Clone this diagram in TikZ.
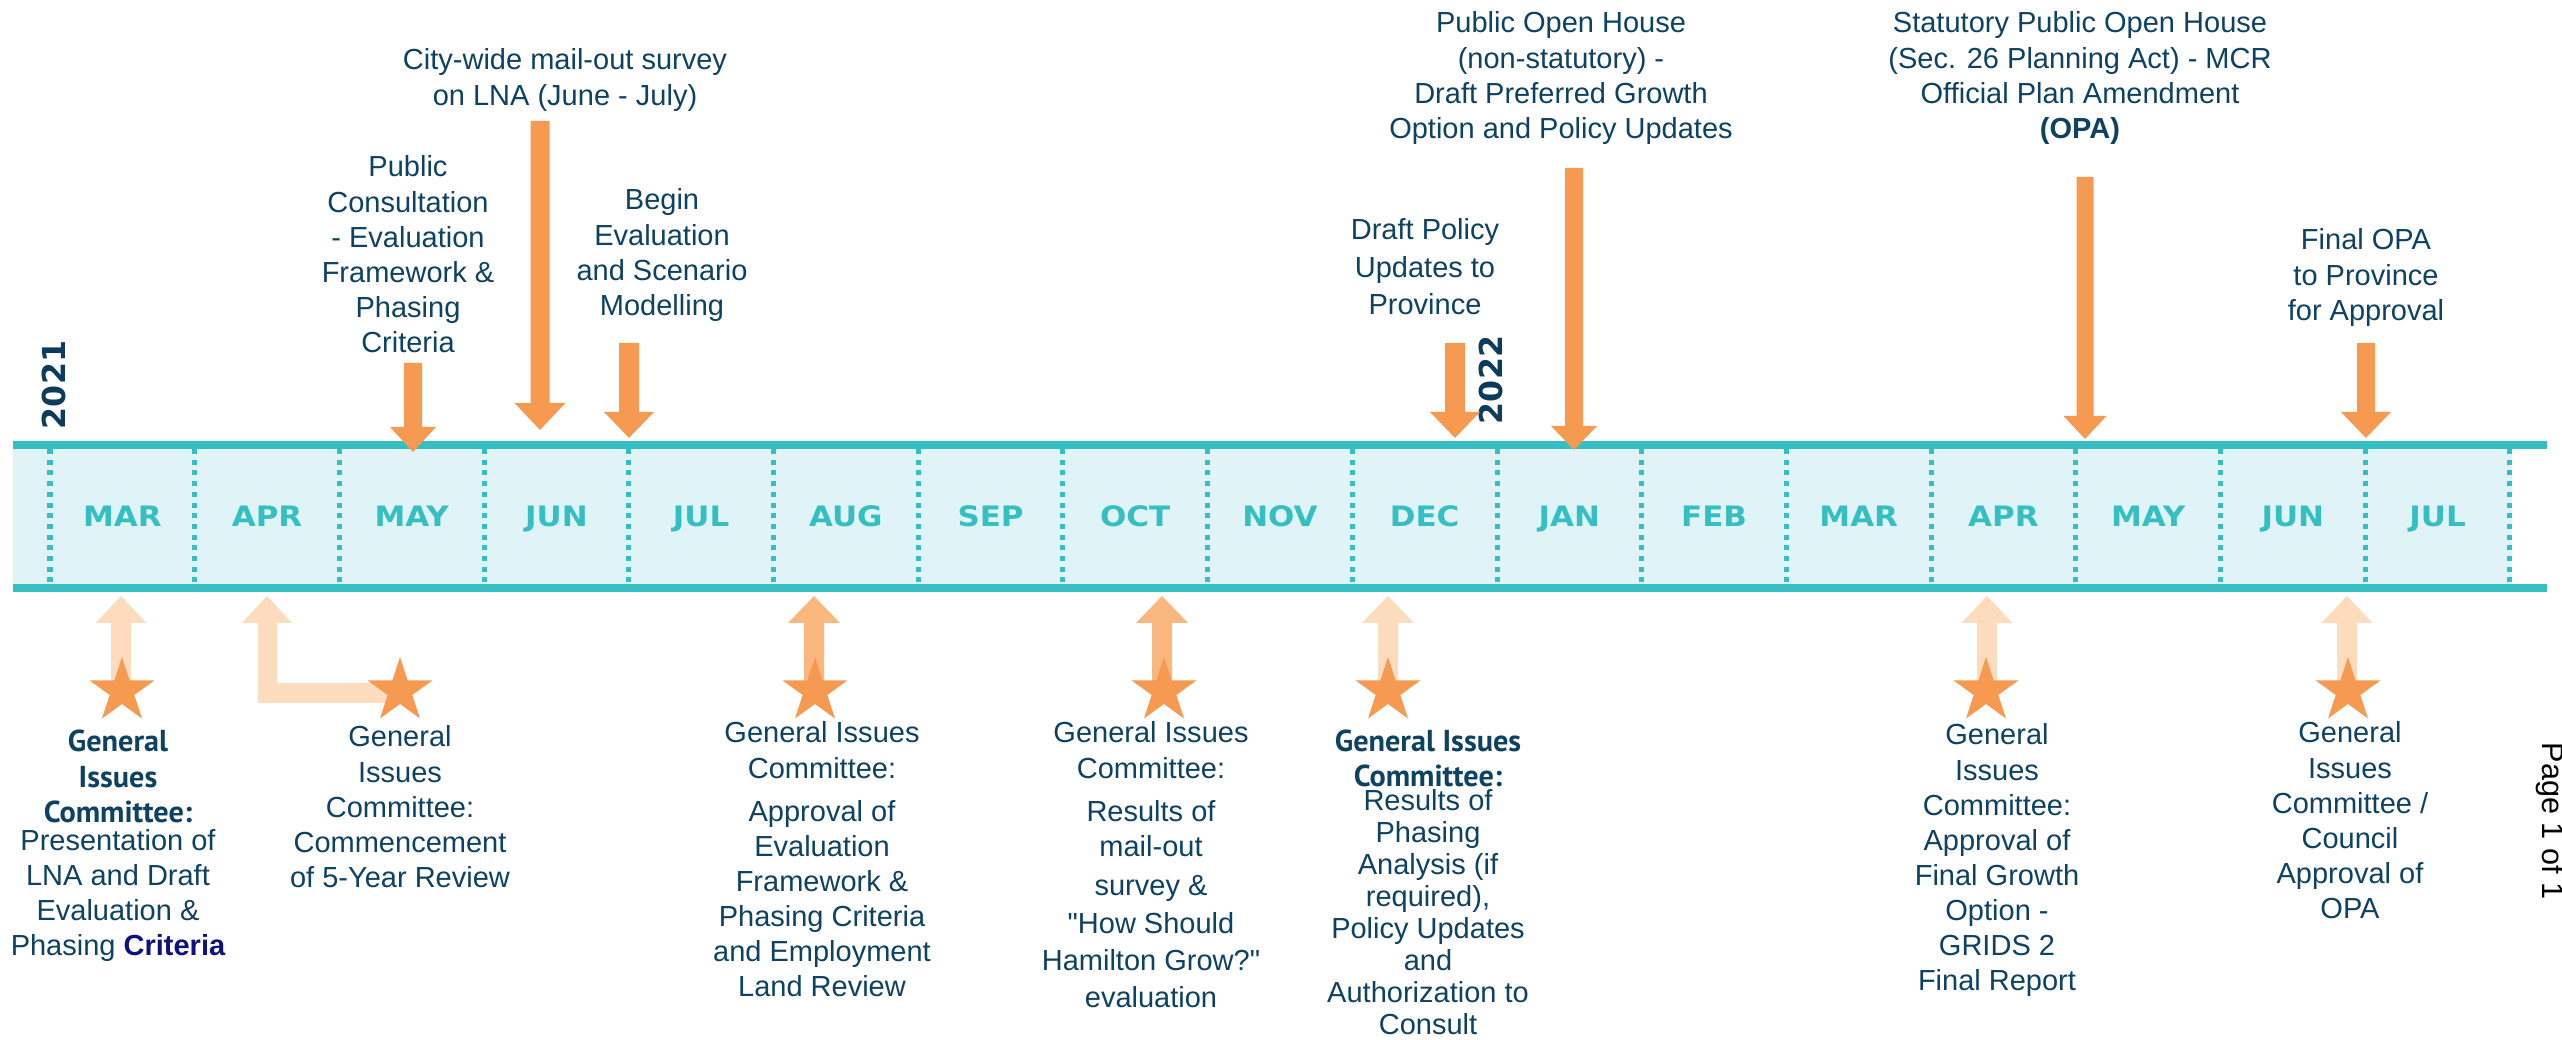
\documentclass[tikz,border=0pt]{standalone}
\usepackage{fontspec}
\setmainfont{Liberation Sans}
\newfontfamily\qfont[Ligatures=TeXOff]{Liberation Sans}
\newfontfamily\gicfont{PT Sans}
\newfontfamily\monthfont[FakeStretch=1.1]{DejaVu Sans}
\newfontfamily\yearfont{DejaVu Sans}
\usetikzlibrary{shapes.geometric}
\definecolor{tlteal}{RGB}{54,191,194}
\definecolor{tlband}{RGB}{224,244,247}
\definecolor{tlorange}{RGB}{247,154,81}
\definecolor{tlpeach}{RGB}{253,220,190}
\definecolor{tlmid}{RGB}{250,183,126}
\definecolor{tltext}{RGB}{14,66,99}
\definecolor{tlyear}{RGB}{13,59,92}
\definecolor{tlnavy}{RGB}{16,16,128}
\newcommand{\lblbox}[1]{\begin{tabular}[t]{@{}c@{}}#1\end{tabular}}
\newcommand{\gic}[1]{{\gicfont\bfseries\fontsize{8.6pt}{9.96pt}\selectfont #1}}
\newcommand{\sq}{{\qfont\char34\relax}}
% #1 x, #2 y start, #3 y head base, #4 y tip, #5 half shaft, #6 half head, #7 colour
\newcommand{\barrow}[7]{\fill[#7] ({#1-#5},#2) -- ({#1+#5},#2) -- ({#1+#5},#3) -- ({#1+#6},#3) -- (#1,#4) -- ({#1-#6},#3) -- ({#1-#5},#3) -- cycle;}
\tikzset{
  lbl/.style={anchor=base, inner sep=0pt, text=tltext, font=\fontsize{8.25pt}{9.96pt}\selectfont},
  month/.style={anchor=base, inner sep=0pt, text=tlteal, font=\monthfont\bfseries\fontsize{8pt}{9pt}\selectfont},
  year/.style={inner sep=0pt, text=tlyear, rotate=90, font=\yearfont\bfseries\fontsize{9pt}{10pt}\selectfont},
  gstar/.style={star, star points=5, star point ratio=2.618, minimum size=0.68cm, inner sep=0pt, fill=tlorange, draw=none}
}
\begin{document}
\begin{tikzpicture}[x=0.01cm,y=-0.01cm]
\useasboundingbox (0,0) rectangle (2562,1040);
\fill[white] (0,0) rectangle (2562,1040);
% band
\fill[tlband] (13,445) rectangle (2512,588);
\foreach \k in {0,...,17} {
  \draw[tlteal, line width=0.05cm, dash pattern=on 0.05cm off 0.057cm] ({50+144.7*\k},449) -- ({50+144.7*\k},584);
}
\draw[tlteal, line width=0.08cm] (13,445) -- (2547,445);
\draw[tlteal, line width=0.08cm] (13,588) -- (2547,588);
\foreach \m [count=\i from 0] in {MAR,APR,MAY,JUN,JUL,AUG,SEP,OCT,NOV,DEC,JAN,FEB,MAR,APR,MAY,JUN,JUL} {
  \node[month] (m\i) at ({50+144.7*(\i+0.5)},527) {\m};
}
\node[year] (y2021) at (54,385) {2021};
\node[year] (y2022) at (1491,380) {2022};
% top arrows
\barrow{413}{363}{427}{452}{9}{23}{tlorange}
\barrow{540}{121}{403}{430}{9.5}{25.5}{tlorange}
\barrow{629}{343}{412}{438}{10}{25}{tlorange}
\barrow{1455}{343}{412}{438}{10}{25}{tlorange}
\barrow{1574}{168}{426}{450}{9}{23}{tlorange}
\barrow{2085}{177}{416}{439}{8.5}{21.5}{tlorange}
\barrow{2366}{343}{412}{438}{9}{25}{tlorange}
% top labels
\node[lbl] (tcity) at (565,70) {\lblbox{City-wide mail-out survey\\on LNA (June - July)}};
\node[lbl] (tpc) at (408,177) {\lblbox{Public\\Consultation\\- Evaluation\\Framework \&\\Phasing\\Criteria}};
\node[lbl] (tbegin) at (662,210) {\lblbox{Begin\\Evaluation\\and Scenario\\Modelling}};
\node[lbl] (tdraft) at (1425,240) {\lblbox{Draft Policy\\[0.7pt]Updates to\\[0.7pt]Province}};
\node[lbl] (tpoh) at (1561,33) {\lblbox{Public Open House\\(non-statutory) -\\Draft Preferred Growth\\Option and Policy Updates}};
\node[lbl] (tstat) at (2080,33) {\lblbox{Statutory Public Open House\\(Sec. 26 Planning Act) - MCR\\Official Plan Amendment\\\textbf{(OPA)}}};
\node[lbl] (tfinal) at (2366,250) {\lblbox{Final OPA\\to Province\\for Approval}};
% bottom arrows
\barrow{121}{690}{623}{596}{10}{25.5}{tlpeach}
\fill[tlpeach] (400,683) -- (277,683) -- (277,623) -- (292,623) -- (267,596) -- (242,623) -- (258,623) -- (258,703) -- (400,703) -- cycle;
\barrow{814}{690}{623}{596}{10}{26}{tlmid}
\barrow{1162}{690}{623}{596}{10}{26}{tlmid}
\barrow{1388}{690}{623}{596}{10}{26}{tlpeach}
\barrow{1987}{690}{623}{596}{10}{25.5}{tlpeach}
\barrow{2347}{690}{623}{596}{10}{25.5}{tlpeach}
% stars
\node[gstar] (s1) at (122,691) {};
\node[gstar] (s2) at (400,691) {};
\node[gstar] (s3) at (815,691) {};
\node[gstar] (s4) at (1164,691) {};
\node[gstar] (s5) at (1388,691) {};
\node[gstar] (s6) at (1986,691) {};
\node[gstar] (s7) at (2348,691) {};
% bottom labels
\node[lbl] (b1) at (118,752) {\lblbox{\gic{General}\\\gic{Issues}\\\gic{Committee:}\\[-2pt]Presentation of\\LNA and Draft\\Evaluation \&\\Phasing {\bfseries\color{tlnavy}Criteria}}};
\node[lbl] (b2) at (400,747) {\lblbox{General\\Issues\\Committee:\\Commencement\\of 5-Year Review}};
\node[lbl] (b3) at (822,743) {\lblbox{General Issues\\Committee:\\[2.3pt]Approval of\\Evaluation\\Framework \&\\Phasing Criteria\\and Employment\\Land Review}};
\node[lbl] (b4) at (1151,743) {\lblbox{General Issues\\Committee:\\[2.3pt]Results of\\mail-out\\[1.1pt]survey \&\\[0.85pt]\sq How Should\\[0.6pt]Hamilton Grow?\sq\\[0.6pt]evaluation}};
\node[lbl, font=\fontsize{8.25pt}{9.1pt}\selectfont] (b5) at (1428,752) {\lblbox{\gic{General Issues}\\[0.85pt]\gic{Committee:}\\[-2.3pt]Results of\\Phasing\\Analysis (if\\required),\\Policy Updates\\and\\Authorization to\\Consult}};
\node[lbl] (b6) at (1997,745) {\lblbox{General\\Issues\\Committee:\\Approval of\\Final Growth\\Option -\\GRIDS 2\\Final Report}};
\node[lbl] (b7) at (2350,743) {\lblbox{General\\Issues\\Committee /\\Council\\Approval of\\OPA}};
\node[inner sep=0pt, rotate=-90, font=\fontsize{8.7pt}{10pt}\selectfont] (page) at (2550,821) {Page 1 of 1};
\end{tikzpicture}
\end{document}
